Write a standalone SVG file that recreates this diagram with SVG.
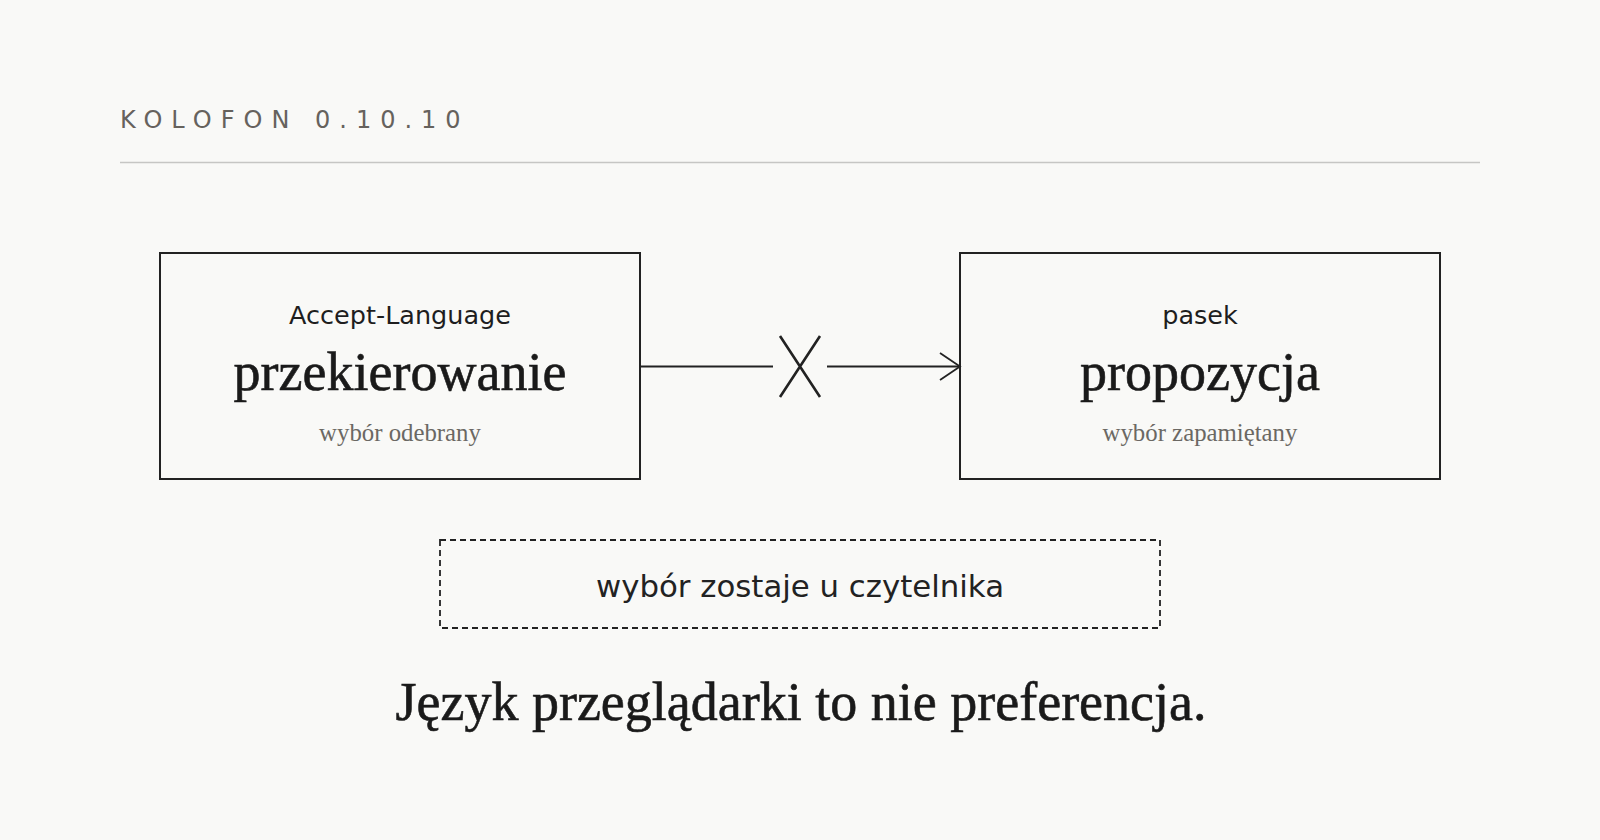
<svg xmlns="http://www.w3.org/2000/svg" width="1600" height="840" viewBox="0 0 1600 840">
<style>
.sans{font-family:"DejaVu Sans","Liberation Sans",sans-serif}
.serif{font-family:"Liberation Serif","DejaVu Serif",serif}
.box{fill:none;stroke:#222;stroke-width:2}
.kicker{font-size:25.5px;fill:#1e1e1e;text-anchor:middle}
.main{font-size:54px;fill:#1a1a1a;stroke:#1a1a1a;stroke-width:0.6;text-anchor:middle}
.sub{font-size:24.8px;fill:#6b6863;text-anchor:middle}
.conn{stroke:#222;stroke-width:1.8;fill:none}
</style>
<rect width="1600" height="840" fill="#f9f9f7"/>
<g id="header">
<text class="sans" x="120" y="128" font-size="24" letter-spacing="9" fill="#66625d">KOLOFON 0.10.10</text>
<line x1="120" y1="162.5" x2="1480" y2="162.5" stroke="#c6c6c4" stroke-width="1.5"/>
</g>
<g id="node-redirect">
<rect class="box" x="160" y="253" width="480" height="226"/>
<text class="sans kicker" x="400" y="324">Accept-Language</text>
<text class="serif main" x="400" y="390">przekierowanie</text>
<text class="serif sub" x="400" y="441">wybór odebrany</text>
</g>
<g id="node-proposal">
<rect class="box" x="960" y="253" width="480" height="226"/>
<text class="sans kicker" x="1200" y="324">pasek</text>
<text class="serif main" x="1200" y="390">propozycja</text>
<text class="serif sub" x="1200" y="441">wybór zapamiętany</text>
</g>
<g id="connectors">
<line class="conn" x1="640" y1="366.5" x2="773" y2="366.5"/>
<path d="M780 336 L820 397 M820 336 L780 397" stroke="#222" stroke-width="2.6" fill="none"/>
<line class="conn" x1="827" y1="366.5" x2="959" y2="366.5"/>
<path class="conn" d="M940 353 L960 366.5 L940 380"/>
</g>
<g id="node-note">
<rect x="440" y="540" width="720" height="88" fill="none" stroke="#222" stroke-width="1.8" stroke-dasharray="6 4"/>
<text class="sans" x="800" y="597" font-size="30.8" fill="#222" text-anchor="middle">wybór zostaje u czytelnika</text>
</g>
<g id="caption">
<text class="serif main" x="801" y="720">Język przeglądarki to nie preferencja.</text>
</g>
</svg>
